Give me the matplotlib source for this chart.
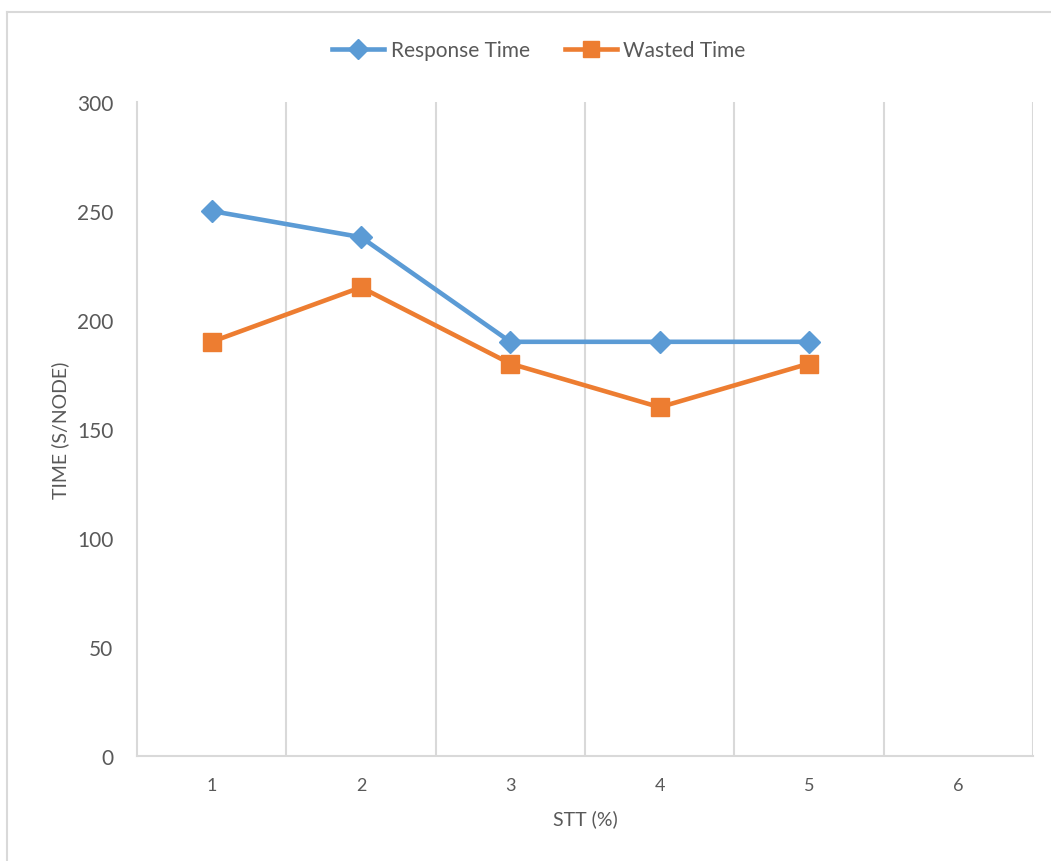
import matplotlib
matplotlib.use('Agg')
import matplotlib.pyplot as plt
from matplotlib.lines import Line2D

plt.rcParams['font.family'] = ['Lato', 'DejaVu Sans']

stt = [1, 2, 3, 4, 5]
categories = ['1', '2', '3', '4', '5', '6']
response_time = [250, 238, 190, 190, 190]
wasted_time = [190, 215, 180, 160, 180]

BLUE = '#5B9BD5'
ORANGE = '#ED7D31'
GRID = '#D9D9D9'
TXT = '#595959'

fig = plt.figure(figsize=(10.51, 8.62), dpi=100)
ax = fig.add_axes([137/1051, 1-757/862, (1033-137)/1051, (757-103)/862])

ax.plot(stt, response_time, color=BLUE, lw=3.3, marker='D', ms=11,
        markeredgecolor=BLUE, label='Response Time', zorder=3)
ax.plot(stt, wasted_time, color=ORANGE, lw=3.3, marker='s', ms=12.5,
        markeredgecolor=ORANGE, label='Wasted Time', zorder=3)

ax.set_xlim(0.5, 6.5)
ax.set_ylim(0, 300)
ax.set_yticks(range(0, 301, 50))
ax.set_xticks(range(1, 7))
ax.set_xticklabels(categories)

# vertical separators between categories
for b in [1.5, 2.5, 3.5, 4.5, 5.5, 6.5]:
    ax.axvline(b, color=GRID, lw=1.5, zorder=1)

for s in ['top', 'right']:
    ax.spines[s].set_visible(False)
ax.spines['left'].set_color(GRID)
ax.spines['left'].set_linewidth(1.5)
ax.spines['bottom'].set_color(GRID)
ax.spines['bottom'].set_linewidth(1.5)
ax.tick_params(axis='both', length=0, colors=TXT)
ax.tick_params(axis='y', labelsize=15, pad=17)
ax.tick_params(axis='x', labelsize=13, pad=15)

ax.set_xlabel('STT (%)', fontsize=14, color=TXT, labelpad=12)
ax.set_ylabel('TIME (S/NODE)', fontsize=14, color=TXT, labelpad=6)

handles = [
    Line2D([], [], color=BLUE, lw=3.3, marker='D', ms=10, label='Response Time'),
    Line2D([], [], color=ORANGE, lw=3.3, marker='s', ms=11.5, label='Wasted Time'),
]
fig.legend(handles=handles, loc='center', bbox_to_anchor=(539/1051, 1-51/862),
           ncol=2, frameon=False, fontsize=15, labelcolor=TXT,
           handlelength=2.5, handletextpad=0.3, columnspacing=1.7)

# outer chart border (left and top edges visible)
fig.add_artist(Line2D([7/1051, 7/1051], [0, 1-13/862], color=GRID, lw=1.5,
                      transform=fig.transFigure))
fig.add_artist(Line2D([7/1051, 1], [1-13/862, 1-13/862], color=GRID, lw=1.5,
                      transform=fig.transFigure))

fig.savefig('out.png', dpi=100, facecolor='white')
